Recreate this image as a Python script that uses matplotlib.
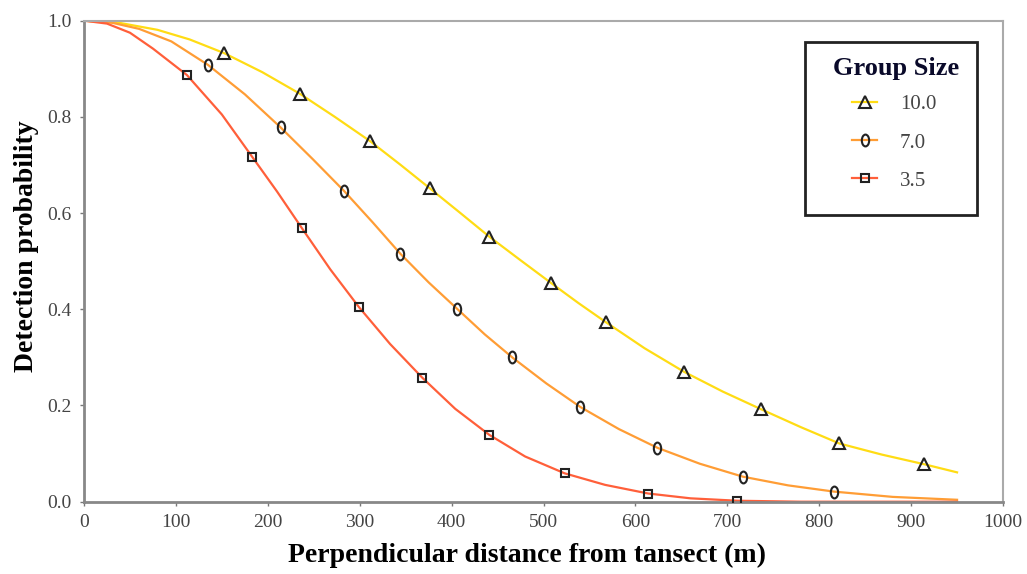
import numpy as np
import matplotlib
matplotlib.use("Agg")
import matplotlib.pyplot as plt
from matplotlib.path import Path
from matplotlib.lines import Line2D
from matplotlib.patches import Rectangle

plt.rcParams['font.family'] = ['Liberation Serif', 'DejaVu Serif']

# curve points (metres, probability)
d_10 = [0, 40, 80, 115, 152, 194, 235, 273, 311, 344, 376, 409, 441, 475, 508,
        538, 568, 610, 653, 695, 737, 780, 822, 868, 914, 950]
p_10 = [1.0, 0.995, 0.981, 0.961, 0.933, 0.893, 0.848, 0.800, 0.750, 0.701, 0.652,
        0.601, 0.551, 0.502, 0.455, 0.413, 0.373, 0.319, 0.270, 0.229, 0.192,
        0.155, 0.121, 0.098, 0.078, 0.061]
d_7 = [0, 30, 60, 95, 135, 175, 214, 249, 283, 314, 344, 375, 406, 436, 466, 503,
       540, 582, 624, 670, 717, 766, 816, 880, 950]
p_7 = [1.0, 0.996, 0.983, 0.957, 0.908, 0.847, 0.778, 0.712, 0.646, 0.581, 0.516,
       0.456, 0.401, 0.348, 0.300, 0.246, 0.197, 0.151, 0.112, 0.079, 0.052,
       0.034, 0.021, 0.010, 0.004]
d_35 = [0, 25, 50, 75, 112, 150, 183, 210, 237, 268, 299, 333, 368, 404, 441, 480,
        523, 567, 614, 660, 711, 780, 860, 950]
p_35 = [1.0, 0.994, 0.975, 0.942, 0.887, 0.805, 0.717, 0.645, 0.569, 0.483, 0.405,
        0.328, 0.258, 0.193, 0.139, 0.094, 0.059, 0.035, 0.017, 0.007, 0.002,
        0.0, 0.0, 0.0]

# marker positions
mx_10 = [152, 235, 311, 376, 441, 508, 568, 653, 737, 822, 914]
my_10 = [0.933, 0.848, 0.750, 0.652, 0.551, 0.455, 0.373, 0.270, 0.192, 0.121, 0.078]
mx_7 = [135, 214, 283, 344, 406, 466, 540, 624, 717, 816]
my_7 = [0.908, 0.778, 0.646, 0.516, 0.401, 0.300, 0.197, 0.112, 0.052, 0.021]
mx_35 = [112, 183, 237, 299, 368, 441, 523, 614, 711]
my_35 = [0.887, 0.717, 0.569, 0.405, 0.258, 0.139, 0.059, 0.017, 0.001]

labels = ["10.0", "7.0", "3.5"]
colors = ["#FFDC14", "#FF9D35", "#FF5F3A"]

# narrow oval marker (like a "0")
circ = Path.unit_circle()
oval = Path(circ.vertices * np.array([0.62, 1.0]), circ.codes)

W, H = 1027, 574
fig = plt.figure(figsize=(W / 100, H / 100), dpi=100)
ax = fig.add_axes([84 / W, 1 - 501.7 / H, (1003 - 84) / W, (501.7 - 20.7) / H])

series = [(d_10, p_10, mx_10, my_10, '^', 8),
          (d_7, p_7, mx_7, my_7, oval, 8.5),
          (d_35, p_35, mx_35, my_35, 's', 6)]
for (xx, yy, mx, my, mk, ms), c in zip(series, colors):
    ax.plot(xx, yy, color=c, linewidth=1.6, zorder=2)
    ax.plot(mx, my, linestyle='none', marker=mk, markersize=ms,
            markerfacecolor='none', markeredgecolor='#222222',
            markeredgewidth=1.5, zorder=3)

ax.set_xlim(0, 1000)
ax.set_ylim(0, 1.0)
ax.set_xticks(np.arange(0, 1001, 100))
ax.set_yticks(np.arange(0, 1.01, 0.2))
ax.set_yticklabels([f"{v:.1f}" for v in np.arange(0, 1.01, 0.2)])
ax.tick_params(direction='out', length=3, width=1, colors='#777777',
               labelcolor='#444444', labelsize=14, pad=6)

for s in ['left', 'bottom']:
    ax.spines[s].set_color('#888888')
    ax.spines[s].set_linewidth(2)
for s in ['top', 'right']:
    ax.spines[s].set_color('#aaaaaa')
    ax.spines[s].set_linewidth(1.5)

ax.set_xlabel("Perpendicular distance from tansect (m)", fontsize=20,
              fontweight='bold', va='center')
ax.xaxis.set_label_coords((527 - 84) / (1003 - 84), -(555 - 501.7) / 481)
ax.set_ylabel("Detection probability", fontsize=20, fontweight='bold', va='center')
ax.yaxis.set_label_coords(-(84 - 27) / 919, (501.7 - 246) / 481)

# legend box drawn by hand in figure pixels
def fx(px):
    return px / W

def fy(py):
    return 1 - py / H

fig.add_artist(Rectangle((fx(805), fy(215)), 172 / W, 173 / H, transform=fig.transFigure,
                         facecolor='white', edgecolor='#222222', linewidth=2))
fig.text(fx(896), fy(68), "Group Size", fontsize=19, fontweight='bold',
         color='#0a0a2a', ha='center', va='center')
for (xx, yy, mx, my, mk, ms), c, lab, ly in zip(series, colors, labels, [102, 140, 178]):
    fig.add_artist(Line2D([fx(852), fx(877)], [fy(ly), fy(ly)], transform=fig.transFigure,
                          color=c, linewidth=1.6))
    fig.add_artist(Line2D([fx(864.5)], [fy(ly)], transform=fig.transFigure,
                          linestyle='none', marker=mk, markersize=ms,
                          markerfacecolor='none', markeredgecolor='#222222',
                          markeredgewidth=1.5))
    fig.text(fx(900), fy(ly + 3), lab, fontsize=15, color='#444444', ha='left', va='center')

fig.savefig("out.png", dpi=100)
